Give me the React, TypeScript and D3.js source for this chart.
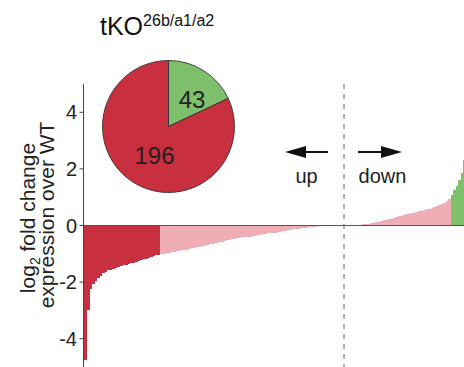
import * as d3 from 'd3';

// log2 fold change, sorted
const upSig = [
  -4.75, -3.0, -2.25, -2.05, -1.95, -1.87, -1.78, -1.69, -1.63, -1.59,
  -1.56, -1.52, -1.49, -1.46, -1.43, -1.41, -1.39, -1.37, -1.34, -1.31,
  -1.28, -1.26, -1.23, -1.2, -1.17, -1.14, -1.12, -1.09, -1.06, -1.03,
];
const upNonSig = [
  -1.0, -0.99, -0.97, -0.96, -0.94, -0.93, -0.91, -0.9, -0.88, -0.87,
  -0.85, -0.83, -0.81, -0.79, -0.77, -0.75, -0.73, -0.71, -0.69, -0.67,
  -0.65, -0.63, -0.61, -0.59, -0.57, -0.55, -0.53, -0.51, -0.49, -0.47,
  -0.45, -0.43, -0.42, -0.41, -0.4, -0.39, -0.37, -0.36, -0.34, -0.33,
  -0.31, -0.3, -0.28, -0.27, -0.26, -0.25, -0.23, -0.22, -0.2, -0.19,
  -0.17, -0.16, -0.14, -0.13, -0.11, -0.1, -0.09, -0.08, -0.07, -0.06,
  -0.05, -0.04, -0.03, -0.02,
];
const unchanged = [-0.01, -0.01, 0, 0, 0, 0, 0, 0, 0, 0, 0.01, 0.01, 0.01];
const downNonSig = [
  0.01, 0.02, 0.03, 0.04, 0.05, 0.06, 0.08, 0.1, 0.12, 0.14,
  0.16, 0.18, 0.2, 0.22, 0.24, 0.27, 0.3, 0.33, 0.35, 0.37,
  0.39, 0.41, 0.43, 0.45, 0.47, 0.5, 0.52, 0.55, 0.57, 0.6,
  0.62, 0.65, 0.68, 0.72, 0.76, 0.8, 0.86, 0.93,
];
const downSig = [1.08, 1.25, 1.4, 1.6, 1.85, 2.3];

const pieLabels = ['43', '196'];
const pieValues = [43, 196];
const yTicks = [-4, -2, 0, 2, 4];

const RED = '#c8303f';
const PINK = '#efadb5';
const GREEN = '#7dbf6b';
const FONT = '"Liberation Sans", Arial, sans-serif';

export default function App() {
  const width = 464;
  const height = 367;

  const bars = [
    ...upSig.map(v => ({ v, c: RED })),
    ...upNonSig.map(v => ({ v, c: PINK })),
    ...unchanged.map(v => ({ v, c: PINK })),
    ...downNonSig.map(v => ({ v, c: PINK })),
    ...downSig.map(v => ({ v, c: GREEN })),
  ];

  const x = d3.scaleBand<number>()
    .domain(bars.map((_, i) => i))
    .range([84, 466])
    .padding(0);

  const y = d3.scaleLinear().domain([-5, 5]).range([367, 84]);
  const axisX = 83.5;

  // pie
  const pie = d3.pie<number>().sort(null).startAngle(0).endAngle(2 * Math.PI);
  const arcs = pie(pieValues);
  const arc = d3.arc<d3.PieArcDatum<number>>().innerRadius(0).outerRadius(66);
  const pieColors = [GREEN, RED];
  const labelPos: [number, number][] = [[23.5, -27], [-14, 29]];

  return (
    <svg width={width} height={height} style={{ position: 'absolute', left: 0, top: 0, fontFamily: FONT }}>
      {/* bars */}
      <g shapeRendering="crispEdges">
        {bars.map((d, i) => (
          <rect
            key={i}
            x={x(i)}
            width={x.bandwidth() + 0.6}
            y={Math.min(y(0), y(d.v))}
            height={Math.abs(y(d.v) - y(0))}
            fill={d.c}
          />
        ))}
      </g>

      {/* zero line */}
      <line x1={axisX} x2={width} y1={y(0)} y2={y(0)} stroke="#555" strokeWidth={1} />

      {/* dashed divider */}
      <line x1={344} x2={344} y1={84} y2={height} stroke="#666" strokeWidth={1} strokeDasharray="5,5" />

      {/* y axis */}
      <g>
        <line x1={axisX} x2={axisX} y1={84} y2={height} stroke="#444" strokeWidth={1} />
        {yTicks.map(t => (
          <g key={t} transform={`translate(0,${y(t)})`}>
            <line x1={axisX - 4} x2={axisX} stroke="#444" />
            <text x={77} dy="0.35em" textAnchor="end" fontSize={20} fill="#222">
              {t < 0 ? `-${Math.abs(t)}` : t}
            </text>
          </g>
        ))}
      </g>

      {/* y label */}
      <g transform="translate(35,218) rotate(-90)">
        <text textAnchor="middle" fontSize={21} fill="#222">
          log<tspan fontSize={14} dy={5}>2</tspan>
          <tspan dy={-5}> fold change</tspan>
        </text>
      </g>
      <g transform="translate(54,215) rotate(-90)">
        <text textAnchor="middle" fontSize={21} fill="#222">expression over WT</text>
      </g>

      {/* title */}
      <text x={100} y={35} fontSize={25} fill="#111">
        tKO<tspan fontSize={16} dy={-9}>26b/a1/a2</tspan>
      </text>

      {/* pie */}
      <g transform="translate(168.5,126.5)">
        {arcs.map((a, i) => (
          <path key={i} d={arc(a) || ''} fill={pieColors[i]} stroke="#333" strokeWidth={0.9} />
        ))}
        {pieLabels.map((l, i) => (
          <text key={l} x={labelPos[i][0]} y={labelPos[i][1]} dy="0.36em" textAnchor="middle" fontSize={24} fill="#222">
            {l}
          </text>
        ))}
      </g>

      {/* arrows */}
      <g fill="#111" stroke="#111">
        <line x1={304} x2={328} y1={152} y2={152} strokeWidth={2} />
        <polygon points="285,152 306,146 306,158" stroke="none" />
        <line x1={358} x2={382} y1={152} y2={152} strokeWidth={2} />
        <polygon points="402,152 381,146 381,158" stroke="none" />
      </g>
      <text x={306.5} y={183} textAnchor="middle" fontSize={20} fill="#222">up</text>
      <text x={382.5} y={183} textAnchor="middle" fontSize={20} fill="#222">down</text>
    </svg>
  );
}
